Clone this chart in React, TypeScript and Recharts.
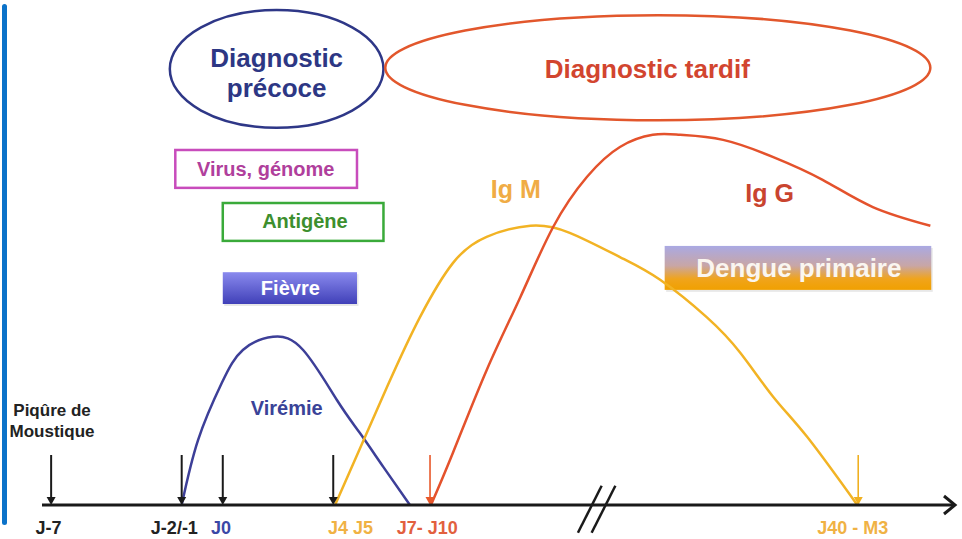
import React from 'react';
import { LineChart, Line, XAxis, YAxis, ReferenceLine, ReferenceArea, ReferenceDot } from 'recharts';

// x = position along the time axis (0 = start of axis, 100 = arrow tip)
// y = relative level (0 = axis, 100 = top of the chart)
const viremie = [
  { x: 15.3, y: 0 },
  { x: 17.1, y: 12.9 },
  { x: 19.7, y: 24.2 },
  { x: 22.0, y: 30.7 },
  { x: 25.3, y: 33.3 },
  { x: 28.6, y: 30.7 },
  { x: 32.3, y: 20.8 },
  { x: 34.8, y: 14.3 },
  { x: 37.4, y: 7.5 },
  { x: 40.3, y: 0 },
];

const igM = [
  { x: 32.1, y: 0 },
  { x: 37.8, y: 23.4 },
  { x: 41.4, y: 37.2 },
  { x: 45.0, y: 47.9 },
  { x: 48.7, y: 53.1 },
  { x: 53.5, y: 55.3 },
  { x: 57.8, y: 53.9 },
  { x: 63.3, y: 49.1 },
  { x: 67.7, y: 44.6 },
  { x: 72.8, y: 37.2 },
  { x: 76.5, y: 30.1 },
  { x: 80.1, y: 21.4 },
  { x: 83.8, y: 13.5 },
  { x: 89.3, y: 0 },
];

const igG = [
  { x: 42.6, y: 0 },
  { x: 45.0, y: 10.3 },
  { x: 48.7, y: 26.7 },
  { x: 52.4, y: 41.2 },
  { x: 56.0, y: 55.1 },
  { x: 59.7, y: 65.0 },
  { x: 63.3, y: 70.9 },
  { x: 66.9, y: 73.3 },
  { x: 69.9, y: 73.3 },
  { x: 74.6, y: 72.3 },
  { x: 80.1, y: 68.9 },
  { x: 85.5, y: 64.4 },
  { x: 91.0, y: 59.0 },
  { x: 97.3, y: 55.3 },
];

const tickPositions = [0.7, 14.5, 19.6, 33.8, 42.2, 88.8];
const tickLabels = ['J-7', 'J-2/-1', 'J0', 'J4 J5', 'J7- J10', 'J40 - M3'];
const tickColors = ['#222222', '#222222', '#3a48a6', '#f0b244', '#e2603e', '#f0b244'];

const arrowPositions = [1.0, 15.3, 19.8, 31.9, 42.5, 89.4];
const arrowColors = ['#1a1a1a', '#1a1a1a', '#1a1a1a', '#1a1a1a', '#e8582a', '#f0b020'];
const arrowTop = 9.9;

const FONT = '"Liberation Sans", Arial, Helvetica, sans-serif';

const TimeTick = (props: any) => {
  const { x, y, payload } = props;
  const i = tickPositions.indexOf(payload.value);
  return (
    <text x={x} y={y + 21} textAnchor="middle" fill={tickColors[i]} fontSize={18} fontWeight="bold" fontFamily={FONT}>
      {tickLabels[i]}
    </text>
  );
};

const DownArrow = (p: any) => {
  const { x1, y1, y2, stroke, strokeWidth } = p;
  const top = Math.min(y1, y2);
  const bottom = Math.max(y1, y2);
  return (
    <g>
      <line x1={x1} y1={top} x2={x1} y2={bottom - 6} stroke={stroke} strokeWidth={strokeWidth} />
      <path d={`M${x1 - 4.5},${bottom - 8} L${x1},${bottom} L${x1 + 4.5},${bottom - 8} Z`} fill={stroke} />
    </g>
  );
};

const AxisTip = (p: any) => {
  const { cx, cy } = p;
  return (
    <path
      d={`M${cx - 11},${cy - 9} L${cx},${cy} L${cx - 11},${cy + 9}`}
      fill="none"
      stroke="#1a1a1a"
      strokeWidth={3}
      strokeLinejoin="miter"
    />
  );
};

const EllipseShape = (stroke: string) => (p: any) => {
  const { x, y, width, height } = p;
  return (
    <ellipse
      cx={x + width / 2}
      cy={y + height / 2}
      rx={width / 2}
      ry={height / 2}
      fill="none"
      stroke={stroke}
      strokeWidth={2.5}
    />
  );
};

const OutlineBox = (stroke: string) => (p: any) => {
  const { x, y, width, height } = p;
  return <rect x={x} y={y} width={width} height={height} fill="#fff" stroke={stroke} strokeWidth={2.5} />;
};

const GradientBox = (id: string, stops: [number, string][]) => (p: any) => {
  const { x, y, width, height } = p;
  return (
    <g>
      <defs>
        <linearGradient id={id} x1="0" y1="0" x2="0" y2="1">
          {stops.map(([o, c]) => (
            <stop key={o} offset={o} stopColor={c} />
          ))}
        </linearGradient>
      </defs>
      <rect x={x + 1.5} y={y + 2} width={width} height={height} fill="#d8d8d8" opacity={0.6} />
      <rect x={x} y={y} width={width} height={height} fill={`url(#${id})`} />
    </g>
  );
};

const Note = (lines: string[], color: string, size: number, gap = 0) => (p: any) => {
  const { cx, cy } = p;
  return (
    <text x={cx} y={cy} textAnchor="middle" fill={color} fontSize={size} fontWeight="bold" fontFamily={FONT}>
      {lines.map((l, i) => (
        <tspan key={l} x={cx} dy={i === 0 ? 0 : gap}>
          {l}
        </tspan>
      ))}
    </text>
  );
};

export default function App() {
  return (
    <div style={{ position: 'absolute', left: 0, top: 0, width: 962, height: 539, background: '#fff' }}>
      <div
        style={{
          position: 'absolute',
          left: 2,
          top: 4,
          width: 5,
          height: 521,
          background: '#0b72c9',
          borderRadius: 3,
        }}
      />
      <LineChart width={962} height={539} margin={{ top: 0, right: 7, bottom: 0, left: 42 }}>
        <XAxis
          type="number"
          dataKey="x"
          domain={[0, 100]}
          ticks={tickPositions}
          interval={0}
          tick={<TimeTick />}
          tickLine={false}
          axisLine={{ stroke: '#1a1a1a', strokeWidth: 3 }}
          height={34}
        />
        <YAxis type="number" domain={[0, 100]} hide />

        <ReferenceArea x1={14.0} x2={37.4} y1={74.7} y2={98.0} ifOverflow="visible" shape={EllipseShape('#2e3787')} />
        <ReferenceArea x1={37.6} x2={97.3} y1={76.2} y2={97.0} ifOverflow="visible" shape={EllipseShape('#e2572c')} />
        <ReferenceArea x1={14.6} x2={34.5} y1={62.8} y2={70.3} ifOverflow="visible" shape={OutlineBox('#c84cbc')} />
        <ReferenceArea x1={19.8} x2={37.4} y1={52.3} y2={59.8} ifOverflow="visible" shape={OutlineBox('#3aaa3a')} />
        <ReferenceArea
          x1={19.8}
          x2={34.5}
          y1={39.8}
          y2={46.1}
          ifOverflow="visible"
          shape={GradientBox('fievreGrad', [[0, '#8a8aee'], [1, '#4040b8']])}
        />
        <ReferenceArea
          x1={68.2}
          x2={97.4}
          y1={42.6}
          y2={51.3}
          ifOverflow="visible"
          shape={GradientBox('dengueGrad', [[0, '#aaa9e3'], [0.45, '#c8a6a6'], [0.75, '#f0a41c'], [1, '#f0a000']])}
        />

        <Line data={viremie} dataKey="y" type="natural" stroke="#3d3f98" strokeWidth={2.5} dot={false} isAnimationActive={false} />
        <Line data={igM} dataKey="y" type="natural" stroke="#f2b324" strokeWidth={2.5} dot={false} isAnimationActive={false} />
        <Line data={igG} dataKey="y" type="natural" stroke="#e4522c" strokeWidth={2.5} dot={false} isAnimationActive={false} />

        {arrowPositions.map((x, i) => (
          <ReferenceLine
            key={`arrow-${x}`}
            segment={[
              { x, y: arrowTop },
              { x, y: 0 },
            ]}
            stroke={arrowColors[i]}
            strokeWidth={i >= 4 ? 1.6 : 2}
            ifOverflow="visible"
            shape={DownArrow}
          />
        ))}

        <ReferenceLine segment={[{ x: 58.7, y: -5.5 }, { x: 61.3, y: 3.8 }]} stroke="#1a1a1a" strokeWidth={2.5} ifOverflow="visible" />
        <ReferenceLine segment={[{ x: 60.2, y: -5.5 }, { x: 62.8, y: 3.8 }]} stroke="#1a1a1a" strokeWidth={2.5} ifOverflow="visible" />
        <ReferenceDot x={100} y={0} r={0} ifOverflow="visible" shape={AxisTip} />

        <ReferenceDot x={25.7} y={86.7} ifOverflow="visible" shape={Note(['Diagnostic', 'précoce'], '#2d3784', 26, 30)} />
        <ReferenceDot x={66.3} y={84.6} ifOverflow="visible" shape={Note(['Diagnostic tardif'], '#d2452f', 26)} />
        <ReferenceDot x={24.5} y={65.2} ifOverflow="visible" shape={Note(['Virus, génome'], '#b03f9c', 20)} />
        <ReferenceDot x={28.8} y={54.9} ifOverflow="visible" shape={Note(['Antigène'], '#3d8f2e', 20)} />
        <ReferenceDot x={27.2} y={41.6} ifOverflow="visible" shape={Note(['Fièvre'], '#ffffff', 20)} />
        <ReferenceDot x={82.9} y={45.2} ifOverflow="visible" shape={Note(['Dengue primaire'], '#faf6f0', 26)} />
        <ReferenceDot x={26.8} y={17.8} ifOverflow="visible" shape={Note(['Virémie'], '#3a4398', 20)} />
        <ReferenceDot x={51.9} y={60.8} ifOverflow="visible" shape={Note(['Ig M'], '#f0ac45', 25)} />
        <ReferenceDot x={79.7} y={60.0} ifOverflow="visible" shape={Note(['Ig G'], '#c9442f', 25)} />
        <ReferenceDot x={1.1} y={17.6} ifOverflow="visible" shape={Note(['Piqûre de', 'Moustique'], '#222222', 17, 21)} />
      </LineChart>
    </div>
  );
}
